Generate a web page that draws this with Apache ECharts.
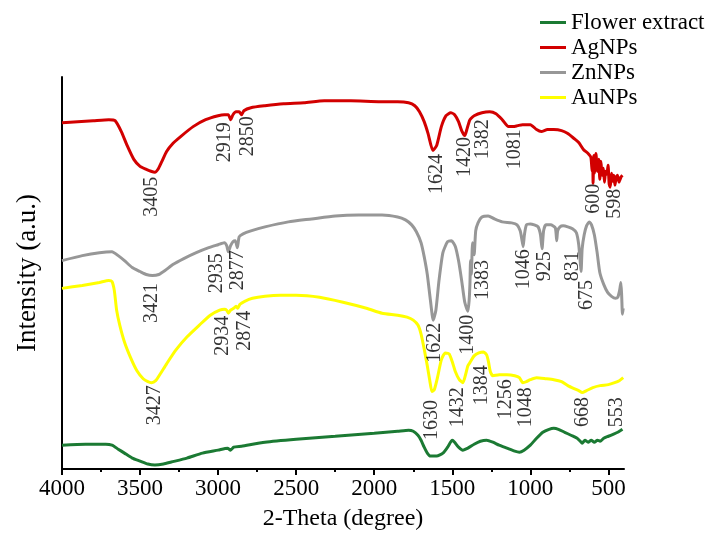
<!DOCTYPE html>
<html>
<head>
<meta charset="utf-8">
<script src="https://cdn.jsdelivr.net/npm/echarts@6/dist/echarts.min.js"></script>
<style>
  html, body { margin: 0; padding: 0; background: #fff; }
  #chart { width: 711px; height: 536px; }
</style>
</head>
<body>
<div id="chart"></div>
<script>
// FT-IR spectra, wavenumber (cm-1) against relative intensity, curves stacked by offset
const seriesNames = ['Flower extract', 'AgNPs', 'ZnNPs', 'AuNPs'];

const greenWn = [4000, 3850, 3720, 3680, 3640, 3600, 3550, 3500, 3450, 3405, 3350, 3300, 3200, 3100, 3000, 2940, 2920, 2900, 2850, 2700, 2500, 2250, 2000, 1850, 1780, 1750, 1720, 1700, 1680, 1660, 1640, 1630, 1600, 1560, 1530, 1500, 1485, 1460, 1432, 1400, 1360, 1320, 1280, 1240, 1200, 1150, 1100, 1070, 1040, 1000, 960, 920, 880, 850, 820, 780, 740, 700, 680, 668, 650, 630, 610, 590, 570, 553, 530, 500, 470, 440, 410];
const greenVal = [24, 25, 25, 24, 20, 16, 11, 8, 5, 4, 5, 7, 11, 16, 19, 21, 19, 22, 23, 27, 30, 33, 36, 38, 39, 38, 34, 29, 22, 16, 13, 13, 13, 16, 22, 29, 27, 22, 19, 21, 25, 28, 29, 27, 24, 21, 18, 17, 19, 24, 31, 37, 40, 41, 40, 37, 34, 31, 28, 26, 29, 27, 29, 27, 29, 28, 31, 33, 35, 37, 40];

const redWn = [4000, 3900, 3800, 3700, 3660, 3620, 3583, 3540, 3500, 3460, 3430, 3405, 3385, 3360, 3330, 3290, 3240, 3160, 3080, 3000, 2960, 2935, 2919, 2905, 2885, 2865, 2850, 2835, 2790, 2700, 2580, 2450, 2320, 2150, 1960, 1850, 1780, 1740, 1710, 1680, 1655, 1624, 1600, 1570, 1540, 1510, 1485, 1460, 1440, 1420, 1405, 1390, 1382, 1360, 1310, 1260, 1220, 1180, 1140, 1110, 1081, 1050, 1000, 960, 930, 890, 850, 800, 760, 720, 690, 660, 630, 612, 604, 600, 598, 594, 590, 580, 570, 562, 555, 548, 540, 532, 525, 518, 510, 502, 495, 488, 480, 472, 465, 458, 450, 442, 432, 420, 410];
const redVal = [349, 350, 351, 352, 351, 340, 326, 312, 305, 302, 300, 299, 302, 310, 320, 328, 335, 345, 352, 356, 357, 357, 352, 357, 360, 360, 357, 361, 364, 366, 368, 369, 371, 371, 370, 370, 369, 366, 360, 350, 338, 321, 326, 345, 356, 359, 357, 350, 341, 336, 343, 351, 353, 356, 359, 360, 358, 352, 345, 345, 346, 347, 347, 342, 340, 342, 342, 341, 338, 333, 329, 322, 318, 314, 300, 306, 288, 316, 298, 318, 300, 312, 292, 310, 296, 303, 289, 300, 297, 306, 287, 284, 298, 290, 296, 286, 294, 296, 289, 294, 296];

const grayWn = [4000, 3870, 3760, 3680, 3640, 3600, 3550, 3500, 3460, 3421, 3380, 3340, 3290, 3220, 3140, 3060, 3000, 2960, 2945, 2935, 2920, 2905, 2890, 2877, 2865, 2840, 2790, 2700, 2550, 2400, 2250, 2100, 1950, 1850, 1800, 1760, 1730, 1700, 1680, 1660, 1640, 1622, 1605, 1585, 1560, 1530, 1505, 1480, 1460, 1440, 1420, 1400, 1392, 1387, 1383, 1378, 1370, 1360, 1350, 1335, 1310, 1270, 1230, 1180, 1120, 1085, 1065, 1055, 1046, 1038, 1025, 1000, 975, 950, 935, 925, 915, 900, 870, 840, 831, 825, 810, 790, 760, 730, 705, 690, 680, 675, 668, 655, 640, 622, 608, 590, 572, 555, 530, 505, 480, 455, 440, 428, 420, 415, 410, 405];
const grayVal = [210, 215, 218, 219, 215, 210, 203, 199, 196, 195, 196, 200, 206, 212, 218, 223, 226, 228, 225, 219, 225, 229, 230, 223, 234, 237, 240, 244, 249, 252, 255, 256, 256, 254, 251, 246, 239, 228, 214, 196, 170, 150, 160, 190, 218, 229, 230, 224, 210, 190, 168, 159, 170, 186, 210, 196, 228, 216, 240, 248, 254, 255, 252, 249, 248, 246, 240, 232, 224, 236, 246, 247, 246, 244, 236, 222, 240, 246, 246, 243, 230, 240, 244, 245, 244, 242, 238, 226, 208, 199, 222, 236, 245, 249, 246, 236, 218, 198, 186, 178, 174, 172, 173, 180, 188, 175, 156, 162];

const yellowWn = [4000, 3870, 3760, 3700, 3680, 3665, 3650, 3630, 3600, 3560, 3520, 3480, 3450, 3427, 3400, 3370, 3330, 3270, 3200, 3120, 3050, 2990, 2960, 2945, 2934, 2920, 2900, 2885, 2874, 2860, 2830, 2780, 2700, 2600, 2500, 2350, 2200, 2050, 1950, 1850, 1790, 1750, 1720, 1700, 1680, 1660, 1645, 1630, 1615, 1595, 1570, 1545, 1520, 1500, 1480, 1455, 1432, 1415, 1400, 1384, 1360, 1330, 1300, 1280, 1268, 1256, 1240, 1200, 1150, 1100, 1070, 1048, 1025, 1000, 960, 900, 850, 800, 760, 720, 690, 668, 640, 600, 553, 500, 460, 430, 405];
const yellowVal = [182, 185, 188, 190, 189, 180, 160, 145, 128, 112, 99, 91, 88, 87, 89, 96, 106, 120, 133, 145, 155, 160, 161, 160, 157, 160, 162, 164, 162, 166, 169, 172, 174, 175, 175, 173, 168, 162, 157, 155, 153, 150, 145, 136, 121, 104, 90, 78, 80, 92, 110, 117, 116, 108, 98, 90, 87, 95, 104, 108, 114, 117, 118, 115, 108, 98, 94, 95, 95, 94, 92, 87, 88, 90, 92, 91, 90, 88, 84, 81, 79, 77, 79, 82, 84, 85, 87, 89, 92];

// Band positions annotated on each spectrum
const agPeaks = [3405, 2919, 2850, 1624, 1420, 1382, 1081, 600, 598];
const znPeaks = [3421, 2935, 2877, 1622, 1400, 1383, 1046, 925, 831, 675];
const auPeaks = [3427, 2934, 2874, 1630, 1432, 1384, 1256, 1048, 668, 553];

// Axis tick values
const majorTicks = [500, 1000, 1500, 2000, 2500, 3000, 3500, 4000];
const minorTicks = [750, 1250, 1750, 2250, 2750, 3250, 3750];

// Pixel nudges [dx, dy] for the band labels so that neighbours do not collide
const agLabelShift = [[-3, 5], [-6, 3], [7, 2], [4, 4], [0, 2], [13, 1], [-2, 4], [1, 19], [22, 6]];
const znLabelShift = [[0, 8], [-11, 2], [1, 3], [2, 3], [0, 4], [13, 0], [1, 3], [3, 3], [17, 11], [6, 9]];
const auLabelShift = [[4, 3], [-5, 3], [7, 3], [0, 9], [-5, 5], [12, 4], [16, 8], [3, 5], [1, 5], [17, 12]];

const colors = ['#1b7a33', '#d20000', '#979797', '#ffff00'];
const FONT = '"Liberation Serif", "Times New Roman", serif';

function pairs(wn, val) {
  return wn.map((w, i) => [w, val[i]]);
}

// Curve value at a given wavenumber (arrays run from high to low wavenumber)
function valueAt(wn, val, x) {
  for (let i = 0; i < wn.length - 1; i++) {
    if (wn[i] >= x && x >= wn[i + 1]) {
      const t = (wn[i] - x) / (wn[i] - wn[i + 1]);
      return val[i] + t * (val[i + 1] - val[i]);
    }
  }
  return val[val.length - 1];
}

function bandLabels(wn, val, peaks, shifts) {
  return {
    type: 'scatter',
    symbolSize: 1,
    silent: true,
    z: 5,
    itemStyle: { color: 'transparent' },
    label: {
      show: true,
      rotate: 90,
      align: 'right',
      verticalAlign: 'middle',
      fontFamily: FONT,
      fontSize: 20,
      color: '#000',
      formatter: p => String(p.value[0])
    },
    data: peaks.map((p, i) => ({
      value: [p, valueAt(wn, val, p)],
      label: { position: shifts[i] }
    }))
  };
}

function curve(name, wn, val, color) {
  return {
    name: name,
    type: 'line',
    showSymbol: false,
    smooth: 0.2,
    lineStyle: { color: color, width: 3 },
    itemStyle: { color: color },
    z: 3,
    data: pairs(wn, val)
  };
}

const chart = echarts.init(document.getElementById('chart'), null, { renderer: 'canvas' });

chart.setOption({
  animation: false,
  backgroundColor: '#fff',
  grid: { left: 62, right: 87, top: 77, bottom: 64 },
  legend: {
    orient: 'vertical',
    left: 540,
    top: 10,
    padding: 0,
    itemGap: 0,
    itemWidth: 26,
    itemHeight: 3,
    icon: 'rect',
    data: seriesNames,
    textStyle: { fontFamily: FONT, fontSize: 23, lineHeight: 25, color: '#000' }
  },
  xAxis: [
    {
      type: 'value',
      min: 400,
      max: 4000,
      inverse: true,
      position: 'bottom',
      name: '2-Theta (degree)',
      nameLocation: 'middle',
      nameGap: 38,
      nameTextStyle: { fontFamily: FONT, fontSize: 24, color: '#000' },
      axisLine: { show: true, lineStyle: { color: '#000', width: 2 } },
      axisTick: { show: true, customValues: majorTicks, length: 6, lineStyle: { color: '#000', width: 2 } },
      axisLabel: {
        customValues: majorTicks,
        formatter: v => String(v),
        fontFamily: FONT,
        fontSize: 23,
        color: '#000',
        margin: 8
      },
      splitLine: { show: false }
    },
    {
      type: 'value',
      min: 400,
      max: 4000,
      inverse: true,
      position: 'bottom',
      axisLine: { show: false },
      axisTick: { show: true, customValues: minorTicks, length: 3, lineStyle: { color: '#000', width: 2 } },
      axisLabel: { show: false },
      splitLine: { show: false }
    }
  ],
  yAxis: {
    type: 'value',
    min: 0,
    max: 395,
    name: 'Intensity (a.u.)',
    nameLocation: 'middle',
    nameGap: 21,
    nameTextStyle: { fontFamily: FONT, fontSize: 27, color: '#000' },
    axisLine: { show: true, lineStyle: { color: '#000', width: 2 } },
    axisTick: { show: false },
    axisLabel: { show: false },
    splitLine: { show: false }
  },
  series: [
    curve(seriesNames[0], greenWn, greenVal, colors[0]),
    curve(seriesNames[1], redWn, redVal, colors[1]),
    curve(seriesNames[2], grayWn, grayVal, colors[2]),
    curve(seriesNames[3], yellowWn, yellowVal, colors[3]),
    bandLabels(redWn, redVal, agPeaks, agLabelShift),
    bandLabels(grayWn, grayVal, znPeaks, znLabelShift),
    bandLabels(yellowWn, yellowVal, auPeaks, auLabelShift)
  ]
});
</script>
</body>
</html>
